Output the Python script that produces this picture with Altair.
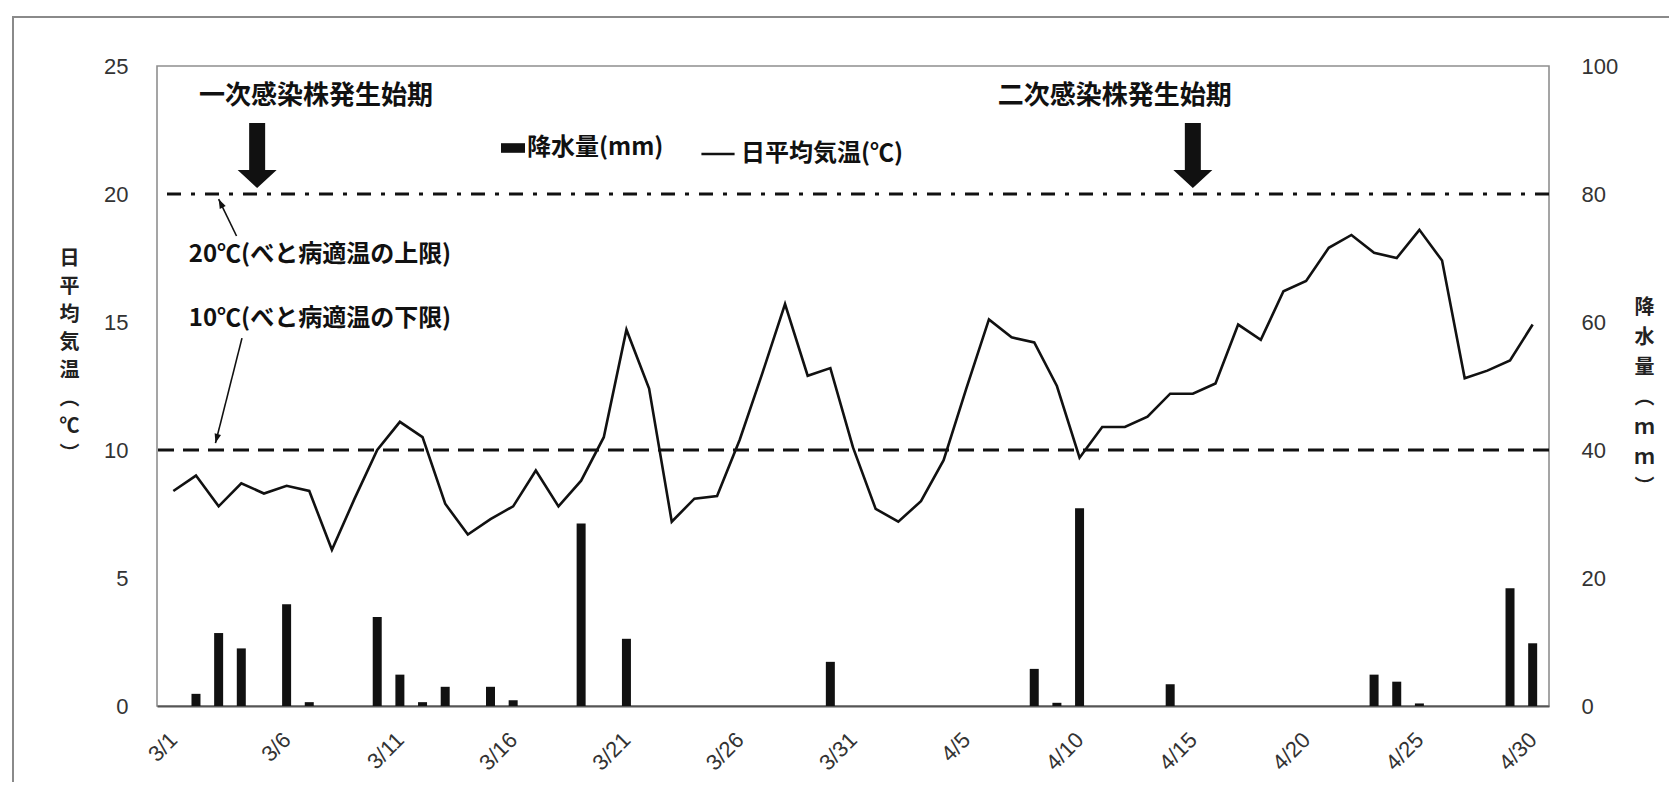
import altair as alt
import pandas as pd

# ---------------- data ----------------
dates = ["3/1", "3/2", "3/3", "3/4", "3/5", "3/6", "3/7", "3/8", "3/9", "3/10",
         "3/11", "3/12", "3/13", "3/14", "3/15", "3/16", "3/17", "3/18", "3/19", "3/20",
         "3/21", "3/22", "3/23", "3/24", "3/25", "3/26", "3/27", "3/28", "3/29", "3/30",
         "3/31", "4/1", "4/2", "4/3", "4/4", "4/5", "4/6", "4/7", "4/8", "4/9",
         "4/10", "4/11", "4/12", "4/13", "4/14", "4/15", "4/16", "4/17", "4/18", "4/19",
         "4/20", "4/21", "4/22", "4/23", "4/24", "4/25", "4/26", "4/27", "4/28", "4/29",
         "4/30"]

temperature = [8.4, 9.0, 7.8, 8.7, 8.3, 8.6, 8.4, 6.1, 8.1, 10.0,
               11.1, 10.5, 7.9, 6.7, 7.3, 7.8, 9.2, 7.8, 8.8, 10.5,
               14.7, 12.4, 7.2, 8.1, 8.2, 10.4, 13.0, 15.7, 12.9, 13.2,
               10.1, 7.7, 7.2, 8.0, 9.6, 12.4, 15.1, 14.4, 14.2, 12.5,
               9.7, 10.9, 10.9, 11.3, 12.2, 12.2, 12.6, 14.9, 14.3, 16.2,
               16.6, 17.9, 18.4, 17.7, 17.5, 18.6, 17.4, 12.8, 13.1, 13.5,
               14.9]

precipitation = [0, 1.9, 11.4, 9.0, 0, 15.9, 0.6, 0, 0, 13.9,
                 4.9, 0.6, 3.0, 0, 3.0, 0.9, 0, 0, 28.5, 0,
                 10.5, 0, 0, 0, 0, 0, 0, 0, 0, 6.9,
                 0, 0, 0, 0, 0, 0, 0, 0, 5.8, 0.5,
                 30.9, 0, 0, 0, 3.4, 0, 0, 0, 0, 0,
                 0, 0, 0, 4.9, 3.8, 0.4, 0, 0, 0, 18.4,
                 9.8]

temp_ticks = [0, 5, 10, 15, 20, 25]
rain_ticks = [0, 20, 40, 60, 80, 100]
label_days = list(range(0, 61, 5))
label_dates = [dates[d] for d in label_days]

rain_name = "降水量(mm)"
temp_name = "日平均気温(℃)"
lower_limit = 10
upper_limit = 20

# annotation positions (day index, temperature units)
onset_days = [3.7, 45.0]
onset_texts = ["一次感染株発生始期", "二次感染株発生始期"]
onset_text_days = [6.3, 41.55]

note_texts = ["20℃(べと病適温の上限)", "10℃(べと病適温の下限)"]
note_y = [17.62, 15.1]
call_x = [2.79, 3.03]
call_y = [18.36, 14.37]
call_x2 = [2.0, 1.86]
call_y2 = [19.8, 10.27]
call_angle = [334, 194.6]

df = pd.DataFrame({"day": list(range(len(dates))), "date": dates,
                   "temp": temperature, "rain": precipitation})
df["rain_series"] = rain_name
df["temp_series"] = temp_name
bars_df = df[df["rain"] > 0]

W, H = 1392, 640
CJK = "Noto Sans CJK JP"
NUM = "Liberation Sans"
INK = "#111111"

date_param = alt.param(name="dateLabels", value=label_dates)


def ts():
    return alt.Scale(domain=[0, 25], nice=False, zero=True)


def xenc(field):
    # identical x scale + axis on every layer so the shared axis is kept
    return alt.X(field, scale=alt.Scale(domain=[-0.5, 60.5], nice=False, zero=False),
                 axis=alt.Axis(values=label_days,
                               labelExpr="dateLabels[round(datum.value / 5)]",
                               title=None, labelAngle=-45, labelAlign="right",
                               labelBaseline="middle", labelPadding=30, ticks=False,
                               grid=False, domainColor="#555555", domainWidth=2,
                               labelFont=NUM, labelFontSize=22, labelColor="#333333",
                               labelFlush=False))


left_axis = alt.Axis(orient="left", values=temp_ticks,
                     title=["日", "平", "均", "気", "温", "︵", "℃", "︶"],
                     titleAngle=0, titleX=-88, titleY=182, titleAlign="center",
                     titleBaseline="top", titleLineHeight=28, titleFont=CJK,
                     titleFontSize=20, titleFontWeight="bold", titleColor="#222222",
                     labelPadding=29, ticks=False, domain=False, grid=False,
                     labelFont=NUM, labelFontSize=22, labelColor="#333333",
                     labelFlush=False)

right_axis = alt.Axis(orient="right", values=rain_ticks,
                      title=["降", "水", "量", "︵", "ｍ", "ｍ", "︶"],
                      titleAngle=0, titleX=95, titleY=231, titleAlign="center",
                      titleBaseline="top", titleLineHeight=30, titleFont=CJK,
                      titleFontSize=20, titleFontWeight="bold", titleColor="#222222",
                      labelPadding=32, ticks=False, domain=False, grid=False,
                      labelFont=NUM, labelFontSize=22, labelColor="#333333",
                      labelFlush=False)

# ---------------- outer frame ----------------
frame = alt.Chart(pd.DataFrame({"k": [0]})).mark_rect(
    fillOpacity=0, stroke="#8a8a8a", strokeWidth=2).encode(
    x=alt.value(-144), y=alt.value(-49), x2=alt.value(1700), y2=alt.value(900))

# ---------------- precipitation bars (right axis) ----------------
bars = alt.Chart(bars_df).mark_bar(size=9).encode(
    x=xenc("day:Q"),
    y=alt.Y("rain:Q", scale=alt.Scale(domain=[0, 100], nice=False, zero=True),
            axis=right_axis),
    fill=alt.Fill("rain_series:N", scale=alt.Scale(domain=[rain_name], range=[INK]),
                  legend=alt.Legend(orient="none", legendX=344, legendY=70, title=None,
                                    symbolType="M-1,-0.4H1V0.4H-1Z", symbolSize=576,
                                    symbolStrokeWidth=0, labelFont=CJK, labelFontSize=24,
                                    labelFontWeight="bold", labelColor=INK,
                                    labelOffset=2, labelLimit=400, padding=0)),
)

# ---------------- temperature layers (left axis) ----------------
line = alt.Chart(df).mark_line(strokeWidth=2.6).encode(
    x=xenc("day:Q"),
    y=alt.Y("temp:Q", scale=ts(), axis=left_axis),
    stroke=alt.Stroke("temp_series:N", scale=alt.Scale(domain=[temp_name], range=[INK]),
                      legend=alt.Legend(orient="none", legendX=543, legendY=70, title=None,
                                        symbolType="stroke", symbolSize=1100,
                                        symbolStrokeWidth=2.5, labelFont=CJK,
                                        labelFontSize=24, labelFontWeight="bold",
                                        labelColor=INK, labelOffset=5, labelLimit=400,
                                        padding=0)),
)

lower_rule = alt.Chart(pd.DataFrame({"temp": [lower_limit]})).mark_rule(
    color=INK, strokeWidth=3, strokeDash=[16, 9]).encode(
    y=alt.Y("temp:Q", scale=ts(), axis=None))

upper_rule = alt.Chart(pd.DataFrame({"temp": [upper_limit]})).mark_rule(
    color=INK, strokeWidth=3, strokeDash=[14, 10, 4, 10]).encode(
    y=alt.Y("temp:Q", scale=ts(), axis=None))

arrow_path = ("M-0.205,-0.833L0.205,-0.833L0.205,0.372L0.5,0.372L0,0.833"
              "L-0.5,0.372L-0.205,0.372Z")
big_arrows = alt.Chart(pd.DataFrame({"day": onset_days, "temp": [21.5, 21.5]})).mark_point(
    shape=arrow_path, filled=True, size=6084, color=INK, opacity=1, strokeWidth=0).encode(
    x=xenc("day:Q"),
    y=alt.Y("temp:Q", scale=ts(), axis=None))

onset_labels = alt.Chart(pd.DataFrame({"day": onset_text_days, "temp": [23.83, 23.83],
                                       "text": onset_texts})).mark_text(
    font=CJK, fontSize=26, fontWeight="bold", color=INK, align="center",
    baseline="middle").encode(
    x=xenc("day:Q"),
    y=alt.Y("temp:Q", scale=ts(), axis=None),
    text="text:N")

notes = alt.Chart(pd.DataFrame({"day": [0.68, 0.68], "temp": note_y,
                                "text": note_texts})).mark_text(
    font=CJK, fontSize=24, fontWeight="bold", color=INK, align="left",
    baseline="middle").encode(
    x=xenc("day:Q"),
    y=alt.Y("temp:Q", scale=ts(), axis=None),
    text="text:N")

call_df = pd.DataFrame({"x": call_x, "y": call_y, "x2": call_x2, "y2": call_y2,
                        "angle": call_angle})
call_lines = alt.Chart(call_df).mark_rule(color=INK, strokeWidth=1.6).encode(
    x=xenc("x:Q"),
    y=alt.Y("y:Q", scale=ts(), axis=None),
    x2="x2:Q", y2="y2:Q")
call_heads = alt.Chart(call_df).mark_point(
    shape="M0,0L-0.6,1.7L0.6,1.7Z", filled=True, size=120, color=INK, opacity=1,
    strokeWidth=0).encode(
    x=xenc("x2:Q"),
    y=alt.Y("y2:Q", scale=ts(), axis=None),
    angle=alt.Angle("angle:Q", scale=None))

chart = alt.layer(frame, bars, lower_rule, upper_rule, line, big_arrows, onset_labels,
                  notes, call_lines, call_heads).add_params(date_param).resolve_scale(
    y="independent").properties(
    width=W, height=H,
    autosize=alt.AutoSizeParams(type="none"),
    padding={"left": 149, "top": 58, "right": 120, "bottom": 76},
    background="white",
).configure_view(stroke="#8f8f8f", strokeWidth=1.6)

chart.save("out.html", embed_options={"renderer": "svg", "actions": False})
